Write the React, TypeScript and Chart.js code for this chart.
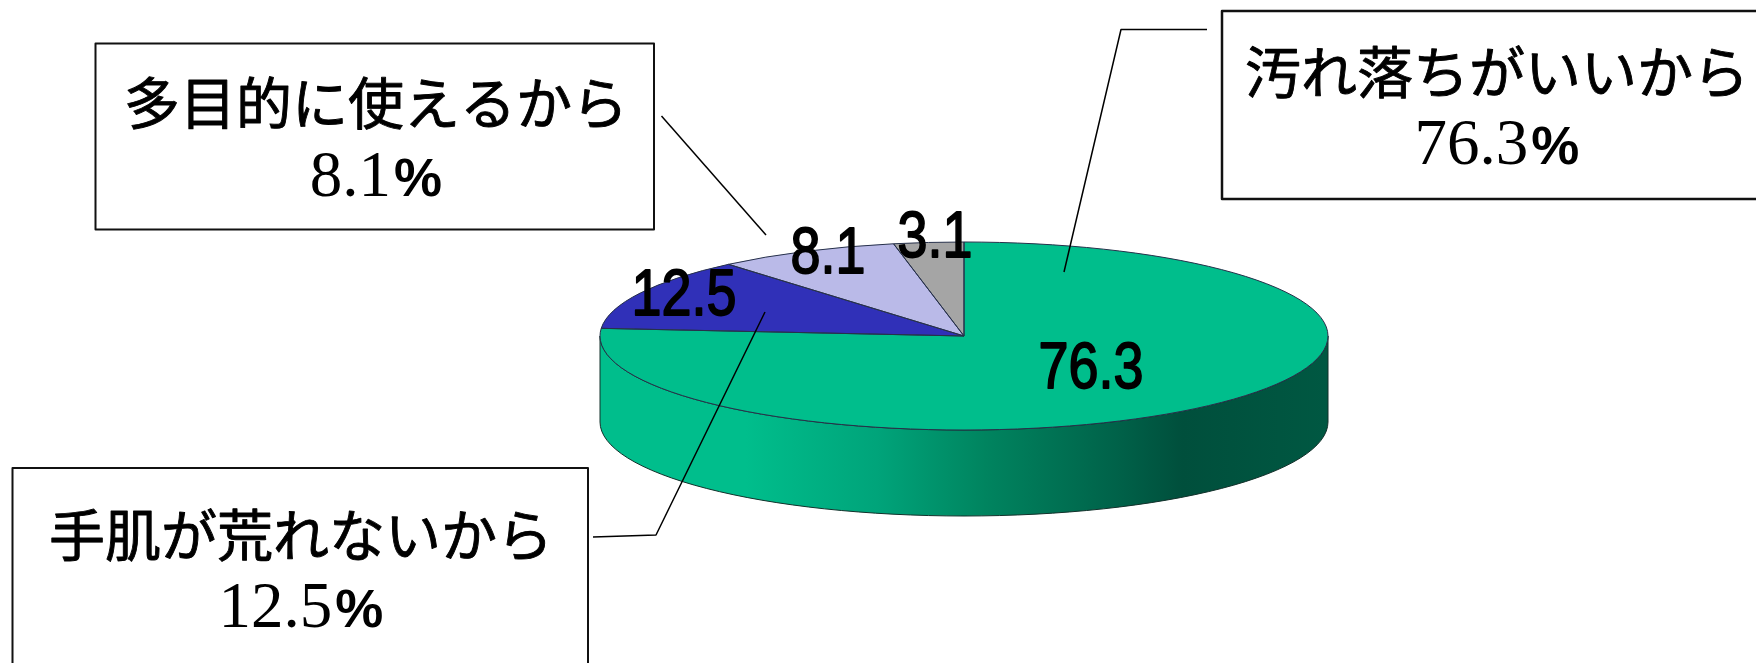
import React, { useEffect, useRef } from "react";
import { Chart, registerables } from "chart.js";

Chart.register(...registerables);

const categories = ["汚れ落ちがいいから", "手肌が荒れないから", "多目的に使えるから", "その他"];
const values = [76.3, 12.5, 8.1, 3.1];
const sliceColors = ["#00BE8C", "#3030B8", "#BABAE8", "#A5A5A5"];

// layout (not data)
const W = 1756;
const H = 663;
const RX = 364;
const RY = 94;
const DEPTH = 86;
const valueLabelPos = [
  { x: 1091, base: 388 },
  { x: 684, base: 315 },
  { x: 828, base: 273 },
  { x: 935, base: 257 },
];
const boxes = [
  { cat: 0, l: 1222, t: 11, r: 1770, b: 199, cx: 1497, jpBase: 93, numBase: 164, lw: 2.5 },
  { cat: 1, l: 12.5, t: 468, r: 588, b: 680, cx: 301, jpBase: 556, numBase: 627, lw: 2 },
  { cat: 2, l: 95.5, t: 43.5, r: 654, b: 229.5, cx: 376, jpBase: 124, numBase: 196, lw: 2 },
];
const leaders = [
  [[1207, 29.5], [1121, 29.5], [1064, 272]],
  [[593, 537], [656, 535], [765, 312]],
  [[661.5, 116], [766, 235]],
];

const JP_FONT = '56px "Noto Sans CJK JP"';
const NUM_FONT = '65px "Liberation Serif"';
const PCT_FONT = 'bold 54px "Liberation Sans"';
const VAL_FONT = '65px "Liberation Sans"';

function stretched(
  ctx: CanvasRenderingContext2D,
  text: string,
  x: number,
  y: number,
  font: string,
  sx: number,
  align: CanvasTextAlign,
  stroke = 0
) {
  ctx.save();
  ctx.font = font;
  ctx.textAlign = align;
  ctx.textBaseline = "alphabetic";
  ctx.fillStyle = "#000";
  ctx.strokeStyle = "#000";
  ctx.translate(x, y);
  ctx.scale(sx, 1);
  ctx.fillText(text, 0, 0);
  if (stroke > 0) {
    ctx.lineWidth = stroke;
    ctx.lineJoin = "round";
    ctx.strokeText(text, 0, 0);
  }
  ctx.restore();
}

const pie3d = {
  id: "pie3d",
  beforeDatasetsDraw(chart: any) {
    const ctx: CanvasRenderingContext2D = chart.ctx;
    const arcs = chart.getDatasetMeta(0).data;
    const cx = arcs[0].x;
    const cy = arcs[0].y;
    ctx.save();
    // side wall of the slices that face the viewer
    arcs.forEach((a: any) => {
      const s = Math.max(a.startAngle, 0);
      const e = Math.min(a.endAngle, Math.PI);
      if (e <= s) return;
      const g = ctx.createLinearGradient(cx - RX, 0, cx + RX, 0);
      g.addColorStop(0, "#00BE8C");
      g.addColorStop(0.2, "#00BE8C");
      g.addColorStop(0.38, "#00A47A");
      g.addColorStop(0.53, "#00845F");
      g.addColorStop(0.71, "#006249");
      g.addColorStop(0.8, "#004F3C");
      g.addColorStop(1, "#005842");
      ctx.beginPath();
      ctx.ellipse(cx, cy + DEPTH, RX, RY, 0, s, e);
      ctx.ellipse(cx, cy, RX, RY, 0, e, s, true);
      ctx.closePath();
      ctx.fillStyle = g;
      ctx.fill();
      ctx.strokeStyle = "#12302A";
      ctx.lineWidth = 1;
      ctx.stroke();
    });
    ctx.translate(0, cy);
    ctx.scale(1, RY / arcs[0].outerRadius);
    ctx.translate(0, -cy);
  },
  afterDatasetsDraw(chart: any) {
    const ctx: CanvasRenderingContext2D = chart.ctx;
    const arcs = chart.getDatasetMeta(0).data;
    const cy = arcs[0].y;
    const k = RY / arcs[0].outerRadius;
    ctx.restore();
    // slice outlines, stroked without the vertical squeeze
    arcs.forEach((a: any) => {
      ctx.save();
      ctx.beginPath();
      ctx.translate(0, cy);
      ctx.scale(1, k);
      ctx.translate(0, -cy);
      ctx.moveTo(a.x, a.y);
      ctx.arc(a.x, a.y, a.outerRadius, a.startAngle, a.endAngle);
      ctx.closePath();
      ctx.restore();
      ctx.strokeStyle = "#26304A";
      ctx.lineWidth = 1;
      ctx.lineJoin = "round";
      ctx.stroke();
    });
  },
  afterDraw(chart: any) {
    const ctx: CanvasRenderingContext2D = chart.ctx;
    ctx.save();
    // leader lines
    ctx.strokeStyle = "#000";
    ctx.lineWidth = 1.5;
    leaders.forEach((pts) => {
      ctx.beginPath();
      pts.forEach(([x, y], i) => (i ? ctx.lineTo(x, y) : ctx.moveTo(x, y)));
      ctx.stroke();
    });
    // callout boxes
    boxes.forEach((b) => {
      ctx.fillStyle = "#fff";
      ctx.fillRect(b.l, b.t, b.r - b.l, b.b - b.t);
      ctx.strokeStyle = "#111";
      ctx.lineWidth = b.lw;
      ctx.strokeRect(b.l, b.t, b.r - b.l, b.b - b.t);
      stretched(ctx, categories[b.cat], b.cx, b.jpBase, JP_FONT, 1, "center", 0.9);
      const num = values[b.cat].toFixed(1);
      ctx.font = NUM_FONT;
      const nw = ctx.measureText(num).width;
      ctx.font = PCT_FONT;
      const pw = ctx.measureText("%").width;
      const left = b.cx - (nw + 3 + pw) / 2;
      stretched(ctx, num, left, b.numBase, NUM_FONT, 1, "left");
      stretched(ctx, "%", left + nw + 3, b.numBase, PCT_FONT, 1, "left");
    });
    // value labels on the slices
    values.forEach((v, i) => {
      const p = valueLabelPos[i];
      stretched(ctx, v.toFixed(1), p.x, p.base, VAL_FONT, 0.83, "center", 1.8);
    });
    ctx.restore();
  },
};

export default function App() {
  const ref = useRef<HTMLCanvasElement | null>(null);
  useEffect(() => {
    if (!ref.current) return;
    const chart = new Chart(ref.current, {
      type: "pie",
      data: {
        labels: categories,
        datasets: [
          {
            data: values,
            backgroundColor: sliceColors,
            borderWidth: 0,
            clip: false,
          } as any,
        ],
      },
      options: {
        responsive: false,
        animation: false,
        devicePixelRatio: 1,
        radius: RX,
        layout: { padding: { left: 172, top: 9 } },
        plugins: { legend: { display: false }, tooltip: { enabled: false }, title: { display: false } },
      } as any,
      plugins: [pie3d],
    });
    return () => chart.destroy();
  }, []);
  return (
    <canvas
      ref={ref}
      width={W}
      height={H}
      style={{ position: "absolute", left: 0, top: 0, display: "block", width: W, height: H }}
    />
  );
}
